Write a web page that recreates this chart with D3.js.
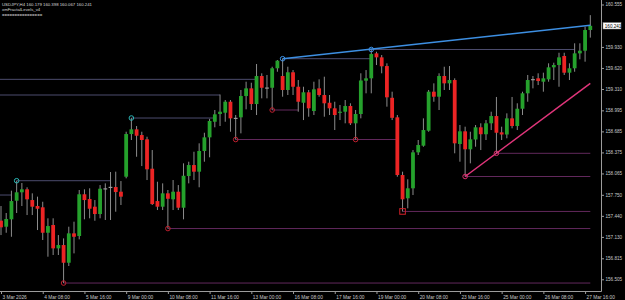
<!DOCTYPE html>
<html>
<head>
<meta charset="utf-8">
<script src="https://cdn.jsdelivr.net/npm/d3@7"></script>
<style>
  html, body { margin: 0; padding: 0; background: #000; }
  svg { display: block; }
  text { font-family: "Liberation Sans", "DejaVu Sans", sans-serif; }
</style>
</head>
<body>
<svg id="chart"></svg>
<script>
// USDJPY H4 bars, 3 Mar 2026 00:00 .. 27 Mar 2026 20:00
const open = [157.369,157.280,157.389,157.663,157.787,157.831,157.673,157.585,157.566,157.191,
  157.305,156.961,157.010,156.749,157.182,157.143,157.758,157.688,157.575,157.467,
  157.846,157.868,157.865,157.796,158.017,158.646,158.715,158.631,158.568,158.135,
  157.658,157.575,157.772,157.684,157.796,157.560,158.027,158.189,158.091,158.396,
  158.597,158.827,158.941,158.960,159.122,158.885,158.892,159.206,159.319,159.088,
  159.501,159.332,159.328,159.615,159.501,159.295,159.556,159.343,159.107,159.261,
  158.985,159.319,159.221,159.107,159.025,158.960,158.975,159.059,158.804,158.941,
  159.432,159.467,159.835,159.776,159.648,159.180,158.892,158.042,157.699,157.846,
  158.376,158.474,158.695,159.270,159.196,159.501,159.393,159.442,158.499,158.686,
  158.421,158.565,158.745,158.643,158.804,158.911,158.671,158.639,158.877,158.764,
  159.019,159.246,159.456,159.467,159.417,159.452,159.629,159.663,159.796,159.550,
  159.615,159.835,159.874,160.179];
const high = [157.585,157.482,157.811,157.958,157.924,157.861,157.772,157.723,157.648,157.404,
  157.404,157.157,157.108,157.280,157.354,157.821,157.831,157.846,157.673,157.894,
  157.919,158.086,158.091,157.953,158.680,158.882,158.764,158.680,158.606,158.410,
  157.943,157.919,157.821,157.968,157.894,158.214,158.238,158.385,158.509,158.665,
  158.870,159.000,159.228,159.147,159.147,158.926,159.295,159.417,159.402,159.678,
  159.541,159.516,159.638,159.737,159.756,159.638,159.589,159.442,159.343,159.295,
  159.417,159.452,159.491,159.221,159.122,159.074,159.147,159.099,159.000,159.541,
  159.589,159.892,159.859,159.810,159.688,159.270,158.926,158.091,157.979,158.410,
  158.558,158.877,159.295,159.393,159.541,159.638,159.648,159.467,158.779,158.754,
  158.680,158.779,158.804,158.852,158.975,159.192,158.754,158.951,159.192,159.099,
  159.270,159.516,159.501,159.541,159.550,159.688,159.697,159.844,159.844,159.688,
  159.983,159.983,160.228,160.398];
const low = [157.157,157.191,157.132,157.482,157.585,157.452,157.452,157.231,157.084,156.838,
  156.863,156.863,156.450,156.701,156.887,157.094,157.389,157.404,157.368,157.404,
  157.379,157.379,157.501,157.600,157.993,158.558,158.311,158.174,157.968,157.600,
  157.526,157.526,157.253,157.526,157.526,157.389,157.919,157.968,157.861,158.238,
  158.303,158.745,158.764,158.827,158.680,158.565,158.656,159.010,159.000,158.926,
  159.172,159.172,159.000,159.564,159.196,159.221,159.221,158.975,158.852,158.901,
  158.926,159.196,158.901,158.926,158.705,158.852,158.804,158.779,158.565,158.877,
  159.246,159.246,159.663,159.541,159.049,158.852,158.017,157.505,157.551,157.747,
  158.337,158.459,158.680,159.122,159.000,159.295,159.295,158.362,158.238,158.020,
  158.214,158.459,158.410,158.558,158.705,158.362,158.558,158.583,158.730,158.705,
  158.926,159.122,159.319,159.368,159.270,159.417,159.442,159.343,159.516,159.442,
  159.564,159.747,159.712,160.067];
const close = [157.271,157.394,157.658,157.787,157.831,157.684,157.575,157.545,157.191,157.290,
  156.961,157.010,156.749,157.182,157.132,157.758,157.673,157.545,157.467,157.840,
  157.846,157.868,157.791,157.723,158.646,158.715,158.621,158.558,158.126,157.614,
  157.575,157.772,157.692,157.796,157.560,158.031,158.189,158.091,158.396,158.597,
  158.838,158.936,158.975,159.122,158.877,158.885,159.206,159.319,159.088,159.501,
  159.328,159.332,159.615,159.727,159.295,159.556,159.343,159.122,159.261,159.025,
  159.305,159.221,159.099,159.025,158.926,158.975,159.059,158.804,158.941,159.435,
  159.467,159.825,159.776,159.644,159.187,158.885,158.042,157.684,157.846,158.376,
  158.484,158.705,159.270,159.196,159.501,159.393,159.442,158.509,158.686,158.421,
  158.568,158.745,158.643,158.804,158.911,158.665,158.639,158.877,158.764,159.019,
  159.246,159.442,159.456,159.427,159.467,159.629,159.663,159.776,159.550,159.615,
  159.835,159.874,160.179,160.241];

// time axis (every 8th bar)
const tickBars = [0, 8, 16, 24, 32, 40, 48, 56, 64, 72, 80, 88, 96, 104, 112];
const tickLabels = ["3 Mar 2026", "4 Mar 08:00", "5 Mar 16:00", "9 Mar 00:00", "10 Mar 08:00",
  "11 Mar 16:00", "13 Mar 00:00", "16 Mar 08:00", "17 Mar 16:00", "19 Mar 00:00",
  "20 Mar 08:00", "23 Mar 16:00", "25 Mar 00:00", "26 Mar 08:00", "27 Mar 16:00"];
const priceTicks = [160.555, 159.930, 159.620, 159.310, 158.995, 158.685, 158.375,
  158.065, 157.750, 157.440, 157.130, 156.815, 156.505];
const lastPrice = 160.241;

// fractal levels: bar where the level starts, bar where price broke it
const upFractalBars = [3, 25, 54, 71];
const upFractalEnds = [21, 41, 71, 110];
const oldUpLevels = [159.452, 159.221, 157.747];
const oldUpEnds = [49, 42, 2];
const downFractalBars = [12, 32, 45, 52, 68, 89, 95];
const downFractalEnds = [113, 113, 76, 57, 76, 113, 113];
const doubleBottomBar = 77;

// trend lines through fractals, drawn to the last bar
const resistanceLine = [[54, 159.756], [113, 160.250]];
const supportLine = [[89, 158.020], [113, 159.392]];

const width = 625, height = 300;
const plotRight = 601, plotBottom = 291;

let svg = d3.select("#chart").attr("width", width).attr("height", height);
svg.append("rect").attr("width", width).attr("height", height).attr("fill", "#000");

svg.append("clipPath").attr("id", "plotClip")
    .append("rect").attr("x", 0).attr("y", 0).attr("width", plotRight).attr("height", plotBottom);

let x = d3.scalePoint().domain(d3.range(open.length)).range([1, 590.3]);
let y = d3.scaleLinear().domain([156.505, 160.555]).range([279.3, 4.5]);

let plot = svg.append("g").attr("clip-path", "url(#plotClip)");

// fractal level lines
let levels = plot.append("g");
oldUpLevels.forEach((p, i) => {
    levels.append("line")
        .attr("x1", 0).attr("x2", x(oldUpEnds[i]))
        .attr("y1", y(p)).attr("y2", y(p))
        .attr("stroke", "#4c4c6e").attr("stroke-width", 1);
});
upFractalBars.forEach((b, i) => {
    levels.append("line")
        .attr("x1", x(b)).attr("x2", x(upFractalEnds[i]))
        .attr("y1", y(high[b])).attr("y2", y(high[b]))
        .attr("stroke", "#4c4c6e").attr("stroke-width", 1);
});
downFractalBars.forEach((b, i) => {
    levels.append("line")
        .attr("x1", x(b)).attr("x2", x(downFractalEnds[i]))
        .attr("y1", y(low[b])).attr("y2", y(low[b]))
        .attr("stroke", "#62285c").attr("stroke-width", 1);
});
levels.append("line")
    .attr("x1", x(doubleBottomBar)).attr("x2", x(open.length - 1))
    .attr("y1", y(low[doubleBottomBar])).attr("y2", y(low[doubleBottomBar]))
    .attr("stroke", "#62285c").attr("stroke-width", 1);

// candles
let bars = d3.range(open.length);
let bodyW = 3.8;
function candleColor(i) {
    if (close[i] > open[i]) return "#25a12c";
    if (close[i] < open[i]) return "#ec2424";
    return "#9a9a9a";
}

plot.append("g")
    .selectAll("line")
    .data(bars)
    .enter()
    .append("line")
    .attr("x1", (i) => x(i)).attr("x2", (i) => x(i))
    .attr("y1", (i) => y(high[i])).attr("y2", (i) => y(low[i]))
    .attr("stroke", "#8c8c8c")
    .attr("stroke-width", 1);

plot.append("g")
    .selectAll("rect")
    .data(bars)
    .enter()
    .append("rect")
    .attr("x", (i) => x(i) - bodyW / 2)
    .attr("width", bodyW)
    .attr("y", (i) => y(Math.max(open[i], close[i])))
    .attr("height", (i) => Math.max(1.2, Math.abs(y(open[i]) - y(close[i]))))
    .attr("fill", (i) => candleColor(i));

// trend lines
let trend = d3.line().x((d) => x(d[0])).y((d) => y(d[1]));
plot.append("path").attr("d", trend(resistanceLine))
    .attr("fill", "none").attr("stroke", "#3d8fe2").attr("stroke-width", 1.5);
plot.append("path").attr("d", trend(supportLine))
    .attr("fill", "none").attr("stroke", "#e0357a").attr("stroke-width", 1.5);

// fractal markers
let markers = plot.append("g").attr("fill", "none").attr("stroke-width", 1);
upFractalBars.forEach((b) => {
    let onTrend = b === resistanceLine[0][0] || b === 71;
    markers.append("circle")
        .attr("cx", x(b)).attr("cy", y(high[b])).attr("r", 2.3)
        .attr("stroke", onTrend ? "#3d8fe2" : "#2ab4b4");
});
downFractalBars.forEach((b) => {
    let onTrend = b === supportLine[0][0] || b === 95;
    markers.append("circle")
        .attr("cx", x(b)).attr("cy", y(low[b])).attr("r", 2.3)
        .attr("stroke", onTrend ? "#d8306c" : "#c0202e");
});
markers.append("rect")
    .attr("x", x(doubleBottomBar) - 2.8).attr("y", y(low[doubleBottomBar]) - 2.8)
    .attr("width", 5.6).attr("height", 5.6)
    .attr("stroke", "#d02028");

// axes
let priceAxis = svg.append("g")
    .attr("transform", `translate(${plotRight + 0.5},0)`)
    .call(d3.axisRight(y).tickValues(priceTicks).tickSize(2.5).tickPadding(1.5)
        .tickFormat(d3.format(".3f")));
priceAxis.select(".domain").attr("d", `M0,0V${plotBottom + 0.5}`).attr("stroke", "#9c9c9c");
priceAxis.selectAll(".tick line").attr("stroke", "#9c9c9c");
priceAxis.selectAll("text").attr("fill", "#c8c8c8").style("font-size", "4.6px");

let timeAxis = svg.append("g")
    .attr("transform", `translate(0,${plotBottom + 0.5})`)
    .call(d3.axisBottom(x).tickValues(tickBars).tickSize(2.5).tickPadding(1.5)
        .tickFormat((d, i) => tickLabels[i]));
timeAxis.select(".domain").attr("d", `M0,0H${plotRight + 0.5}`).attr("stroke", "#9c9c9c");
timeAxis.selectAll(".tick line").attr("stroke", "#9c9c9c");
timeAxis.selectAll("text")
    .attr("text-anchor", "start").attr("x", 1)
    .attr("fill", "#c8c8c8").style("font-size", "4.8px");

// last price label
let lp = svg.append("g").attr("transform", `translate(${plotRight + 2},${y(lastPrice)})`);
lp.append("rect").attr("x", 0).attr("y", -3.2).attr("width", 18).attr("height", 6.4)
    .attr("fill", "#fff").attr("stroke", "#888").attr("stroke-width", 0.5);
lp.append("text").attr("x", 1.8).attr("y", 1.7)
    .attr("fill", "#000").style("font-size", "4.6px").text(lastPrice.toFixed(3));

// header
let header = svg.append("g").attr("fill", "#d8d8d8").style("font-size", "4.3px");
header.append("text").attr("x", 2).attr("y", 6)
    .text("USDJPY,H4  160.179 160.398 160.067 160.241");
header.append("text").attr("x", 2).attr("y", 11).text("xmFractalLevels_v4");
header.append("text").attr("x", 2).attr("y", 15.5).text("================");
</script>
</body>
</html>
